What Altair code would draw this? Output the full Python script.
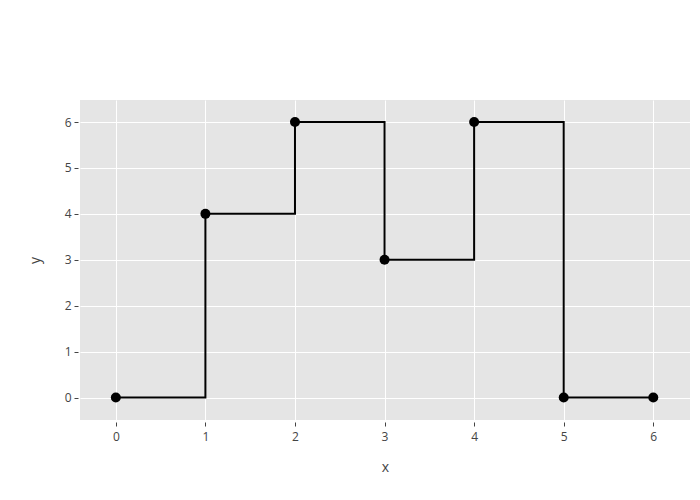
import altair as alt
import pandas as pd

xs = [0, 1, 2, 3, 4, 5, 6]
ys = [0, 4, 6, 3, 6, 0, 0]

df = pd.DataFrame({"x": xs, "y": ys})

xaxis = alt.Axis(values=[0, 1, 2, 3, 4, 5, 6], title="x", grid=True, domain=False,
                 tickSize=4, offset=2, labelPadding=5, titlePadding=18)
yaxis = alt.Axis(values=[0, 1, 2, 3, 4, 5, 6], title="y", grid=True, domain=False,
                 tickSize=4, offset=2, labelPadding=3, titlePadding=22)

xenc = alt.X("x:Q", scale=alt.Scale(domain=[-0.4, 6.41], nice=False, zero=False), axis=xaxis)
yenc = alt.Y("y:Q", scale=alt.Scale(domain=[-0.49, 6.48], nice=False, zero=False), axis=yaxis)

line = alt.Chart(df).mark_line(interpolate="step-after", color="black", strokeWidth=2).encode(x=xenc, y=yenc)
pts = alt.Chart(df).mark_circle(color="black", size=100, opacity=1).encode(x=xenc, y=yenc)

chart = (line + pts).properties(
    width=610, height=320,
    autosize=alt.AutoSizeParams(type="none"),
    padding={"left": 72, "top": 92, "right": 2, "bottom": 72},
    background="white",
).configure_view(fill="#e5e5e5", stroke=None).configure_axis(
    gridColor="white", gridWidth=1, tickColor="#444", labelColor="#444",
    titleColor="#444", labelFont="Open Sans", titleFont="Open Sans",
    labelFontSize=12, titleFontSize=14, titleFontWeight="normal",
)

chart.save("out.html", embed_options={"renderer": "svg", "actions": False})
